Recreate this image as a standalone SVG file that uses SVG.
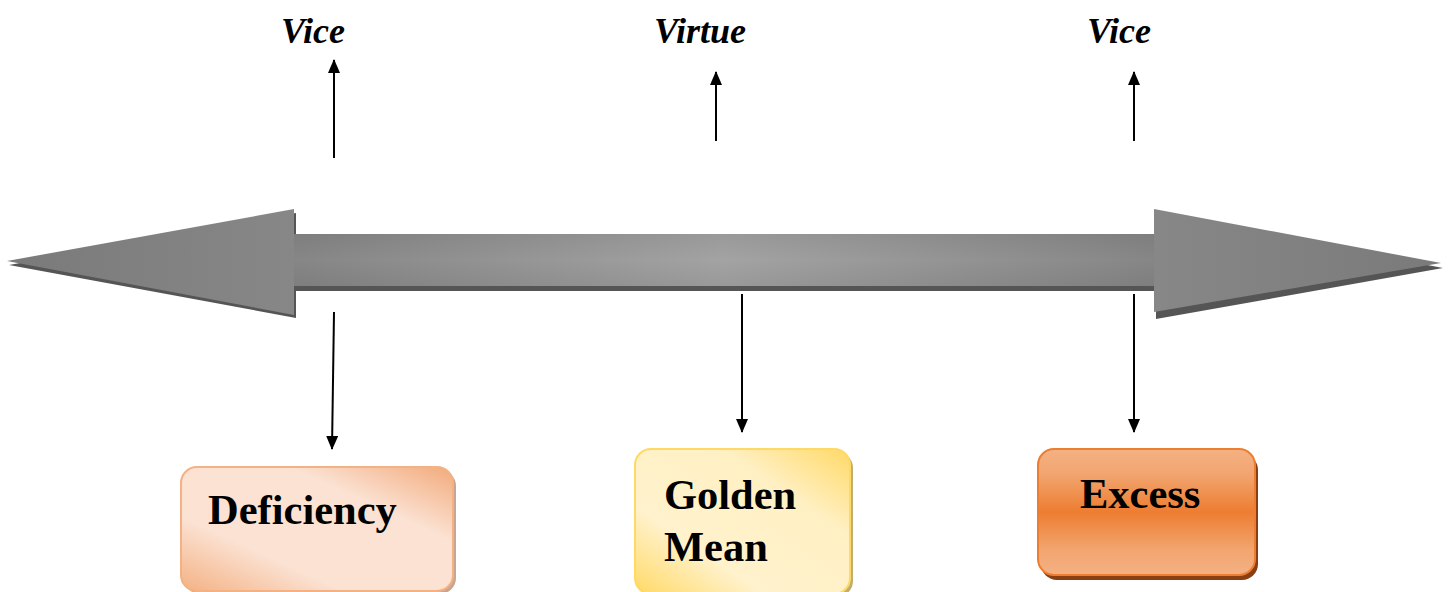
<svg xmlns="http://www.w3.org/2000/svg" width="1451" height="592" viewBox="0 0 1451 592">
<defs>
<style>
.lbl{font-family:"Liberation Serif","Times New Roman",serif;font-weight:bold;font-style:italic;font-size:36px;fill:#000}
.box{font-family:"Liberation Serif","Times New Roman",serif;font-weight:bold;font-size:42.5px;fill:#000}
.con{stroke:#000;stroke-width:2;fill:none}
</style>
<marker id="ah2" viewBox="0 0 14 12" refX="13" refY="6" markerWidth="14" markerHeight="12" markerUnits="userSpaceOnUse" orient="auto"><path d="M0,0 L14,6 L0,12 z" fill="#000"/></marker>
<linearGradient id="shaft" x1="0" y1="0" x2="1" y2="0">
<stop offset="0" stop-color="#868686"/><stop offset="0.5" stop-color="#a3a3a3"/><stop offset="1" stop-color="#868686"/>
</linearGradient>
<linearGradient id="shaftV" x1="0" y1="0" x2="0" y2="1">
<stop offset="0" stop-color="#000" stop-opacity="0.06"/><stop offset="0.5" stop-color="#000" stop-opacity="0"/><stop offset="1" stop-color="#000" stop-opacity="0.06"/>
</linearGradient>
<linearGradient id="headL" x1="0" y1="0" x2="1" y2="0">
<stop offset="0" stop-color="#7a7a7a"/><stop offset="1" stop-color="#878787"/>
</linearGradient>
<linearGradient id="headR" x1="0" y1="0" x2="1" y2="0">
<stop offset="0" stop-color="#878787"/><stop offset="1" stop-color="#7a7a7a"/>
</linearGradient>
<linearGradient id="gDef" x1="0" y1="1" x2="1" y2="0">
<stop offset="0" stop-color="#F4B183"/><stop offset="0.3" stop-color="#FBE2D3"/><stop offset="0.7" stop-color="#FBE2D3"/><stop offset="1" stop-color="#F2AA7B"/>
</linearGradient>
<linearGradient id="gGold" x1="0" y1="1" x2="1" y2="0">
<stop offset="0" stop-color="#FFD966"/><stop offset="0.3" stop-color="#FFF2CC"/><stop offset="0.7" stop-color="#FFF0C4"/><stop offset="1" stop-color="#FFD966"/>
</linearGradient>
<linearGradient id="gExc" x1="0" y1="0" x2="0" y2="1">
<stop offset="0" stop-color="#F4B183"/><stop offset="0.2" stop-color="#F2A570"/><stop offset="0.5" stop-color="#ED7D31"/><stop offset="0.8" stop-color="#F2A570"/><stop offset="1" stop-color="#F4B183"/>
</linearGradient>
</defs>
<rect width="1451" height="592" fill="#fff"/>

<g id="axis">
<path d="M9,265 L296,213 L296,239 L1156,239 L1156,213 L1443,268 L1156,319 L1156,291 L296,291 L296,318 Z" fill="#555"/>
<rect x="294" y="234" width="862" height="52" fill="url(#shaft)"/>
<rect x="294" y="234" width="862" height="52" fill="url(#shaftV)"/>
<path d="M7,261 L294,209 L294,315 Z" fill="url(#headL)"/>
<path d="M1154,209 L1441,263 L1154,312 Z" fill="url(#headR)"/>
</g>

<g id="connectors">
<line class="con" x1="334" y1="158" x2="334" y2="60" marker-end="url(#ah2)"/>
<line class="con" x1="716" y1="141" x2="716" y2="72" marker-end="url(#ah2)"/>
<line class="con" x1="1134" y1="141" x2="1134" y2="72" marker-end="url(#ah2)"/>
<line class="con" x1="334" y1="312" x2="332" y2="449" marker-end="url(#ah2)"/>
<line class="con" x1="742" y1="294" x2="742" y2="432" marker-end="url(#ah2)"/>
<line class="con" x1="1134" y1="294" x2="1134" y2="432" marker-end="url(#ah2)"/>
</g>

<g id="label-vice-left"><text class="lbl" x="281" y="43">Vice</text></g>
<g id="label-virtue"><text class="lbl" x="654" y="43">Virtue</text></g>
<g id="label-vice-right"><text class="lbl" x="1087" y="43">Vice</text></g>

<g id="node-deficiency">
<rect x="184" y="470" width="272" height="124" rx="16" fill="#C9A593"/>
<rect x="181" y="467" width="272" height="124" rx="16" fill="url(#gDef)" stroke="#F4B183" stroke-width="2"/>
<text class="box" x="208" y="524">Deficiency</text>
</g>

<g id="node-golden-mean">
<rect x="638" y="452" width="215" height="145" rx="16" fill="#BFAE72"/>
<rect x="635" y="449" width="215" height="145" rx="16" fill="url(#gGold)" stroke="#FFD966" stroke-width="2"/>
<text class="box" x="664" y="509">Golden</text>
<text class="box" x="664" y="561">Mean</text>
</g>

<g id="node-excess">
<rect x="1041" y="454" width="217" height="126" rx="16" fill="#8A3F12"/>
<rect x="1038" y="449" width="217" height="126" rx="16" fill="url(#gExc)" stroke="#ED7D31" stroke-width="2"/>
<text class="box" x="1080" y="508">Excess</text>
</g>
</svg>
